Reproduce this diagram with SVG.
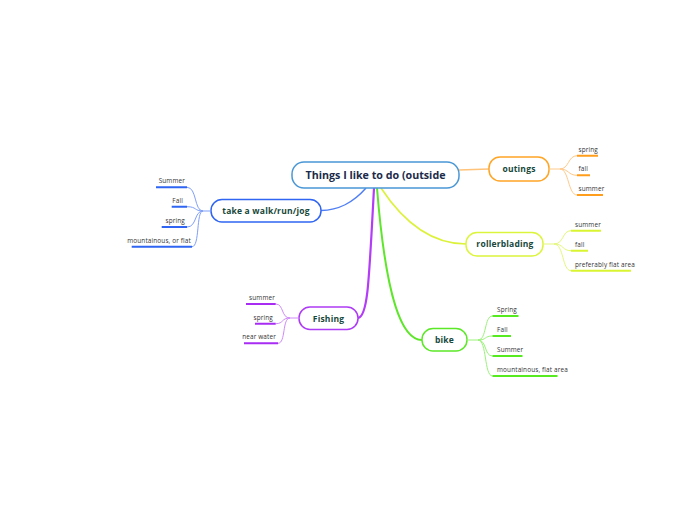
<svg xmlns="http://www.w3.org/2000/svg" width="696" height="520" viewBox="0 0 696 520">
<style>
.node rect{fill:#fff;stroke-width:1.5}
.nt{font-family:"Open Sans","Liberation Sans",sans-serif;font-weight:bold;font-size:8.5px;fill:#17473a;text-anchor:middle;letter-spacing:0.2px}
.lt{font-family:"Open Sans","Liberation Sans",sans-serif;font-size:6.4px;letter-spacing:0.15px;fill:#333}
.r{text-anchor:end}
.ul{fill:none;stroke-width:2}
.br{fill:none;stroke-width:1}
</style>
<rect width="696" height="520" fill="#fff"/>
<g id="connectors" fill="none">
<path d="M459,170 L489,169" stroke="#ffc37a" stroke-width="1.5"/>
<path d="M366,188 C352,204 338,210 321,210.5" stroke="#4f7ef5" stroke-width="1.5"/>
<path d="M374,188 C369,280 368,317 358,318" stroke="#b23cf7" stroke-width="2.2"/>
<path d="M377,188 C386,300 402,340 422,340" stroke="#5ee62a" stroke-width="2"/>
<path d="M381,188 C410,232 440,244 466,244" stroke="#dcf23a" stroke-width="1.6"/>
</g>
<g id="central">
<rect x="292" y="162" width="167" height="26" rx="12" fill="#fff" stroke="#4a97d6" stroke-width="1.5"/>
<text x="375.5" y="179" font-family="'Open Sans','Liberation Sans',sans-serif" font-weight="bold" font-size="10.7" fill="#1c2b4a" text-anchor="middle">Things I like to do (outside</text>
</g>
<g id="outings" class="node">
<rect x="489" y="157" width="60" height="24" rx="11" stroke="#ffa526"/>
<text class="nt" x="519" y="172">outings</text>
<path class="br" stroke="#ffc98a" d="M549,169 H560 M560,169 C569,169 568,155.7 577,155.7 M560,169 C569,169 568,175.3 577,175.3 M560,169 C569,169 568,195 577,195"/>
<path class="ul" stroke="#ff9d1c" d="M577,155.7 H598 M577,175.3 H590 M577,195 H603"/>
<text class="lt" x="578.5" y="151.8">spring</text>
<text class="lt" x="578.5" y="171.3">fall</text>
<text class="lt" x="578.5" y="191">summer</text>
</g>
<g id="rollerblading" class="node">
<rect x="466" y="232.5" width="77" height="23.5" rx="11" stroke="#dcf53c"/>
<text class="nt" x="505" y="247">rollerblading</text>
<path class="br" stroke="#e4f77a" d="M543,244 H554 M554,244 C564,244 562,230.7 571,230.7 M554,244 C564,244 562,250.7 571,250.7 M554,244 C564,244 562,270.7 571,270.7"/>
<path class="ul" stroke="#d9f531" d="M571,230.7 H601 M571,250.7 H588 M571,270.7 H631"/>
<text class="lt" x="575" y="226.8">summer</text>
<text class="lt" x="575" y="246.8">fall</text>
<text class="lt" x="575" y="266.8">preferably flat area</text>
</g>
<g id="walk" class="node">
<rect x="211" y="199.5" width="110" height="22.5" rx="11" stroke="#2f65f2"/>
<text class="nt" x="266" y="214">take a walk/run/jog</text>
<path class="br" stroke="#7f9ff8" d="M211,211 H203 M203,211 C194,211 197,187.3 187,187.3 M203,211 C194,211 197,206.7 187,206.7 M203,211 C194,211 197,227 187,227 M203,211 C196,211 200,246.7 192,246.7"/>
<path class="ul" stroke="#2f65f2" d="M187,187.3 H156 M187,206.7 H171.7 M187,227 H161.7 M192,246.7 H131.7"/>
<text class="lt r" x="185" y="183.4">Summer</text>
<text class="lt r" x="183" y="202.8">Fall</text>
<text class="lt r" x="185" y="223.1">spring</text>
<text class="lt r" x="191" y="242.8">mountainous, or flat</text>
</g>
<g id="fishing" class="node">
<rect x="299" y="307" width="59" height="22.5" rx="11" stroke="#ad3bf5"/>
<text class="nt" x="328.5" y="321.5">Fishing</text>
<path class="br" stroke="#cf8af9" d="M299,318 H290 M290,318 C281,318 284,304 275.7,304 M290,318 C281,318 284,323.7 275.7,323.7 M290,318 C282,318 286,343.3 278,343.3"/>
<path class="ul" stroke="#a82cf2" d="M275.7,304 H246 M275.7,323.7 H255 M278,343.3 H244"/>
<text class="lt r" x="275" y="300">summer</text>
<text class="lt r" x="273" y="319.7">spring</text>
<text class="lt r" x="276" y="339.4">near water</text>
</g>
<g id="bike" class="node">
<rect x="422" y="328.5" width="45" height="22.5" rx="11" stroke="#5ce827"/>
<text class="nt" x="444.5" y="343">bike</text>
<path class="br" stroke="#9af27a" d="M467,340 H478 M478,340 C487,340 484,316 492.5,316 M478,340 C487,340 484,336 492.5,336 M478,340 C487,340 484,356 492.5,356 M478,340 C487,340 484,376 492.5,376"/>
<path class="ul" stroke="#57ea20" d="M492.5,316 H518.5 M492.5,336 H511 M492.5,356 H522.5 M492.5,376 H557.5"/>
<text class="lt" x="497" y="312">Spring</text>
<text class="lt" x="497" y="332">Fall</text>
<text class="lt" x="497" y="352">Summer</text>
<text class="lt" x="497" y="372">mountainous, flat area</text>
</g>
</svg>
